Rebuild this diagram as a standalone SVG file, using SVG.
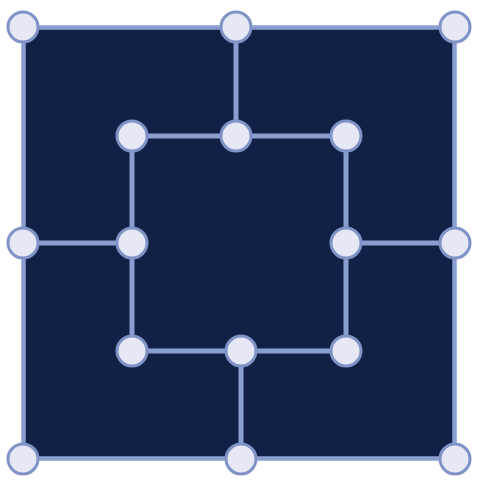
<svg xmlns="http://www.w3.org/2000/svg" width="477" height="483" viewBox="0 0 477 483">
<style>
.ln{stroke:#8a9fd0;stroke-width:5;fill:none;stroke-linecap:butt}
.nd{fill:#e6e9f5;stroke:#7f93c6;stroke-width:3}
</style>
<rect x="0" y="0" width="477" height="483" fill="#ffffff"/>
<g id="board">
<rect x="23.5" y="27.5" width="431" height="431" fill="#112145" stroke="#8a9fd0" stroke-width="4.5"/>
</g>
<g id="connectors">
<line class="ln" x1="236" y1="27" x2="236" y2="136"/>
<line class="ln" x1="132" y1="136" x2="346" y2="136"/>
<line class="ln" x1="132" y1="136" x2="132" y2="351"/>
<line class="ln" x1="346" y1="136" x2="346" y2="351"/>
<line class="ln" x1="132" y1="351" x2="346" y2="351"/>
<line class="ln" x1="23" y1="243" x2="132" y2="243"/>
<line class="ln" x1="346" y1="243" x2="455" y2="243"/>
<line class="ln" x1="241" y1="351" x2="241" y2="459"/>
</g>
<g id="n1"><circle class="nd" cx="23" cy="27" r="15"/></g>
<g id="n2"><circle class="nd" cx="236" cy="27" r="15"/></g>
<g id="n3"><circle class="nd" cx="455" cy="27" r="15"/></g>
<g id="n4"><circle class="nd" cx="132" cy="136" r="15"/></g>
<g id="n5"><circle class="nd" cx="236" cy="136" r="15"/></g>
<g id="n6"><circle class="nd" cx="346" cy="136" r="15"/></g>
<g id="n7"><circle class="nd" cx="23" cy="243" r="15"/></g>
<g id="n8"><circle class="nd" cx="132" cy="243" r="15"/></g>
<g id="n9"><circle class="nd" cx="346" cy="243" r="15"/></g>
<g id="n10"><circle class="nd" cx="455" cy="243" r="15"/></g>
<g id="n11"><circle class="nd" cx="132" cy="351" r="15"/></g>
<g id="n12"><circle class="nd" cx="241" cy="351" r="15"/></g>
<g id="n13"><circle class="nd" cx="346" cy="351" r="15"/></g>
<g id="n14"><circle class="nd" cx="23" cy="459" r="15"/></g>
<g id="n15"><circle class="nd" cx="241" cy="459" r="15"/></g>
<g id="n16"><circle class="nd" cx="455" cy="459" r="15"/></g>
</svg>
